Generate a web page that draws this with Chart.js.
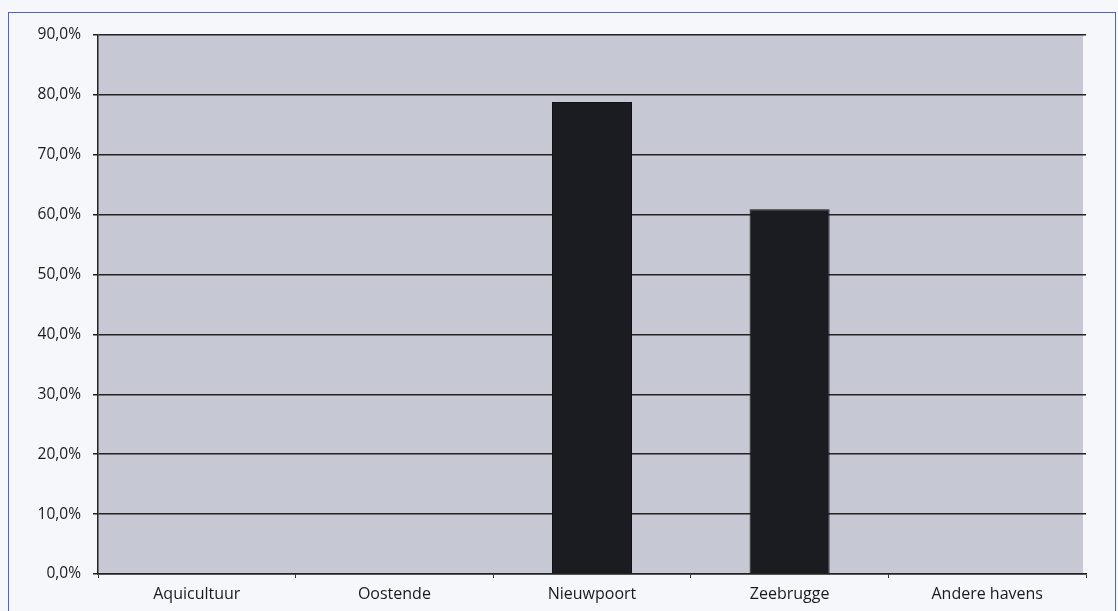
<!DOCTYPE html>
<html>
<head>
<meta charset="utf-8">
<script src="https://cdn.jsdelivr.net/npm/chart.js@4"></script>
<style>
    body { margin: 0; background: #f6f7fb; }
    .frame { position: absolute; left: 8px; top: 12px; width: 1106px; height: 610px; border: 1px solid #4e62d6; border-bottom: none; }
    canvas { position: absolute; left: 0; top: 0; }
</style>
</head>
<body>
<div class="frame"></div>
<canvas id="myChart" width="1118" height="611"></canvas>
<script>
/* Dados do gráfico */
const categories = ['Aquicultuur', 'Oostende', 'Nieuwpoort', 'Zeebrugge', 'Andere havens']
const values = [0, 0, 78.8, 60.9, 0]
const yTicks = [0, 10, 20, 30, 40, 50, 60, 70, 80, 90]

const fontName = '"Open Sans", "DejaVu Sans", sans-serif'

// fundo cinza da área do gráfico
const plotBackground = {
    id: 'plotBackground',
    beforeDraw(chart) {
        const { ctx, chartArea } = chart
        ctx.save()
        ctx.fillStyle = '#c6c9d3'
        ctx.fillRect(chartArea.left, chartArea.top, chartArea.right - chartArea.left - 3, chartArea.bottom - chartArea.top)
        ctx.restore()
    }
}

const ctx = document.getElementById('myChart').getContext('2d')
new Chart(ctx, {
    type: 'bar',
    data: {
        labels: categories,
        datasets: [{
            data: values,
            backgroundColor: '#1b1c21',
            borderColor: '#111216',
            borderWidth: 1,
            categoryPercentage: 1,
            barPercentage: 0.405
        }]
    },
    options: {
        responsive: false,
        animation: false,
        layout: { padding: { top: 35, right: 32, left: 0, bottom: 0 } },
        plugins: { legend: { display: false }, tooltip: { enabled: false } },
        scales: {
            x: {
                offset: true,
                grid: { offset: true, drawOnChartArea: false, tickLength: 4, color: '#333' },
                border: { color: '#222', width: 1.5 },
                ticks: { color: '#1a1a1a', font: { family: fontName, size: 16 }, padding: 7 },
                afterFit(scale) { scale.height = 37 }
            },
            y: {
                min: 0,
                max: 90,
                afterBuildTicks(scale) { scale.ticks = yTicks.map(v => ({ value: v })) },
                grid: { color: '#222', lineWidth: 1.5, tickLength: 5 },
                border: { color: '#222', width: 1.5 },
                ticks: {
                    color: '#1a1a1a',
                    font: { family: fontName, size: 15.5 },
                    padding: 12,
                    callback: v => v.toFixed(1).replace('.', ',') + '%'
                },
                afterFit(scale) { scale.width = 98 }
            }
        }
    },
    plugins: [plotBackground]
})
</script>
</body>
</html>
